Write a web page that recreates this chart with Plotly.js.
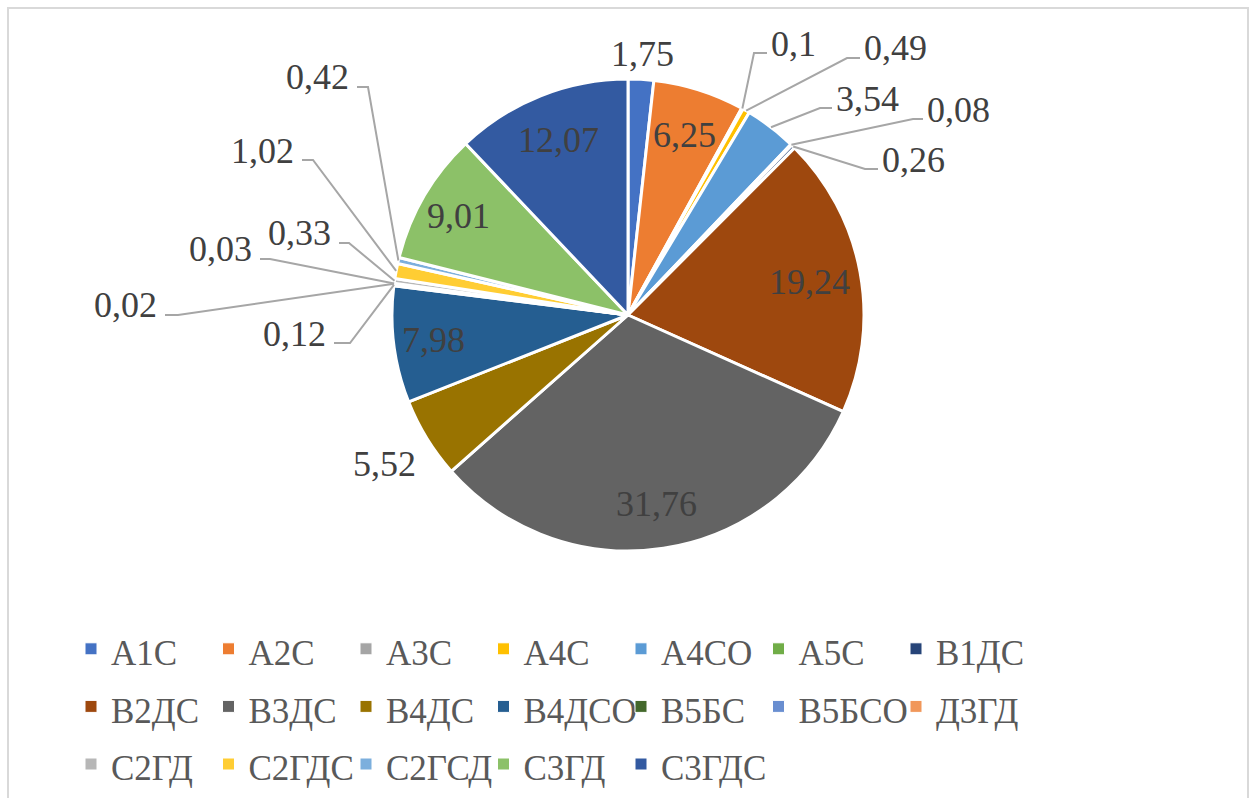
<!DOCTYPE html>
<html lang="ru">
<head>
<meta charset="utf-8">
<script src="https://cdn.plot.ly/plotly-3.0.1.min.js"></script>
<style>
  html, body { margin: 0; padding: 0; background: #ffffff; font-family: serif; }
  #chart svg text, #chart svg tspan { font-family: serif !important; }
  #chart .legendpie { stroke-width: 1px !important; }
</style>
</head>
<body>
<div id="chart" style="width:1255px;height:798px"></div>
<script>
// Categories (clockwise from 12 o'clock) and their shares, %
const categories = ['А1С', 'А2С', 'А3С', 'А4С', 'А4СО', 'А5С', 'В1ДС',
  'В2ДС', 'В3ДС', 'В4ДС', 'В4ДСО', 'В5БС', 'В5БСО', 'Д3ГД',
  'С2ГД', 'С2ГДС', 'С2ГСД', 'С3ГД', 'С3ГДС'];
const shares = [1.75, 6.25, 0.1, 0.49, 3.54, 0.08, 0.26,
  19.24, 31.76, 5.52, 7.98, 0.12, 0.02, 0.03,
  0.33, 1.02, 0.42, 9.01, 12.07];
const sliceColors = ['#4472C4', '#ED7D31', '#A5A5A5', '#FFC000', '#5B9BD5', '#70AD47', '#264478',
  '#9E480E', '#636363', '#997300', '#255E91', '#43682B', '#698ED0', '#F1975A',
  '#B7B7B7', '#FFCD33', '#7CAFDD', '#8CC168', '#335AA1'];

// ---- geometry of the page ----
const W = 1255, H = 798;
const M = { l: 70, r: 185, t: 0, b: 0 };
const PW = W - M.l - M.r, PH = H - M.t - M.b;
const CX = 628, CY = 315, R = 236;          // pie centre and radius, px
const px2x = px => (px - M.l) / PW;
const py2y = py => 1 - (py - M.t) / PH;

// Where each value label goes:
//  ['in', f]   inside, on the mid-angle at f * radius
//  ['out', f]  outside, on the mid-angle at f * radius
//  ['lead', elbowX, elbowY, endX]  leader line from the slice edge to the label
const placement = [
  ['out', 1.107],
  ['in', 0.80],
  ['lead', 754, 53, 767],
  ['lead', 847, 58, 860],
  ['lead', 820, 108, 832],
  ['lead', 913, 119, 923],
  ['lead', 865, 169, 878],
  ['in', 0.78],
  ['in', 0.81],
  ['out', 1.21],
  ['in', 0.83],
  ['lead', 350, 343, 334],
  ['lead', 178, 315, 165],
  ['lead', 270, 259, 260],
  ['lead', 349, 243, 339],
  ['lead', 313, 160, 302],
  ['lead', 368, 87, 357],
  ['in', 0.83],
  ['in', 0.80]
];

const fmt = v => String(v).replace('.', ',');
const total = shares.reduce((a, b) => a + b, 0);

const SERIF = 'serif';
const labelFont = () => ({ family: SERIF, size: 36, color: '#404040' });

function draw() {
  const annotations = [];
  const shapes = [];

  let cum = 0;
  shares.forEach((v, i) => {
    const theta = 2 * Math.PI * (cum + v / 2) / total;   // clockwise from top
    cum += v;
    const at = f => [CX + f * R * Math.sin(theta), CY - f * R * Math.cos(theta)];
    const p = placement[i];
    if (p[0] === 'in' || p[0] === 'out') {
      const [x, y] = at(p[1]);
      annotations.push({
        xref: 'paper', yref: 'paper', x: px2x(x), y: py2y(y),
        xanchor: 'center', yanchor: 'middle', showarrow: false,
        text: fmt(v), font: labelFont()
      });
    } else {
      const [ex, ey, endX] = [p[1], p[2], p[3]];
      const [sx, sy] = at(1.0);
      shapes.push({
        type: 'path', xref: 'paper', yref: 'paper',
        path: `M ${px2x(sx)},${py2y(sy)} L ${px2x(ex)},${py2y(ey)} L ${px2x(endX)},${py2y(ey)}`,
        line: { color: '#A6A6A6', width: 2 }
      });
      const right = endX > ex;
      annotations.push({
        xref: 'paper', yref: 'paper',
        x: px2x(right ? endX + 2 : endX - 6), y: py2y(ey - 9.5),
        xanchor: right ? 'left' : 'right', yanchor: 'middle', showarrow: false,
        text: fmt(v), font: labelFont()
      });
    }
  });

  // chart frame
  shapes.push({
    type: 'rect', xref: 'paper', yref: 'paper',
    x0: px2x(8), x1: px2x(1248), y0: py2y(802), y1: py2y(8),
    line: { color: '#D9D9D9', width: 2 }, fillcolor: 'rgba(0,0,0,0)', layer: 'below'
  });

  const trace = {
    type: 'pie',
    labels: categories.map(c => '<span style="font-size:35px">' + c + '</span>'),
    values: shares,
    sort: false,
    direction: 'clockwise',
    rotation: 0,
    domain: {
      x: [px2x(CX - R), px2x(CX + R)],
      y: [py2y(CY + R), py2y(CY - R)]
    },
    marker: { colors: sliceColors, line: { color: '#FFFFFF', width: 3 } },
    textinfo: 'none',
    textfont: { family: SERIF },
    hoverinfo: 'none'
  };

  const layout = {
    width: W, height: H,
    margin: M,
    font: { family: SERIF },
    paper_bgcolor: '#FFFFFF',
    plot_bgcolor: '#FFFFFF',
    showlegend: true,
    legend: {
      orientation: 'h',
      x: px2x(71), xanchor: 'left',
      y: py2y(615), yanchor: 'top',
      entrywidth: 92.5, entrywidthmode: 'pixels',
      bgcolor: 'rgba(0,0,0,0)',
      font: { family: SERIF, size: 42, color: '#595959' },
      traceorder: 'normal'
    },
    annotations: annotations,
    shapes: shapes
  };

  Plotly.newPlot('chart', [trace], layout, { displayModeBar: false });
}

draw();
</script>
</body>
</html>
